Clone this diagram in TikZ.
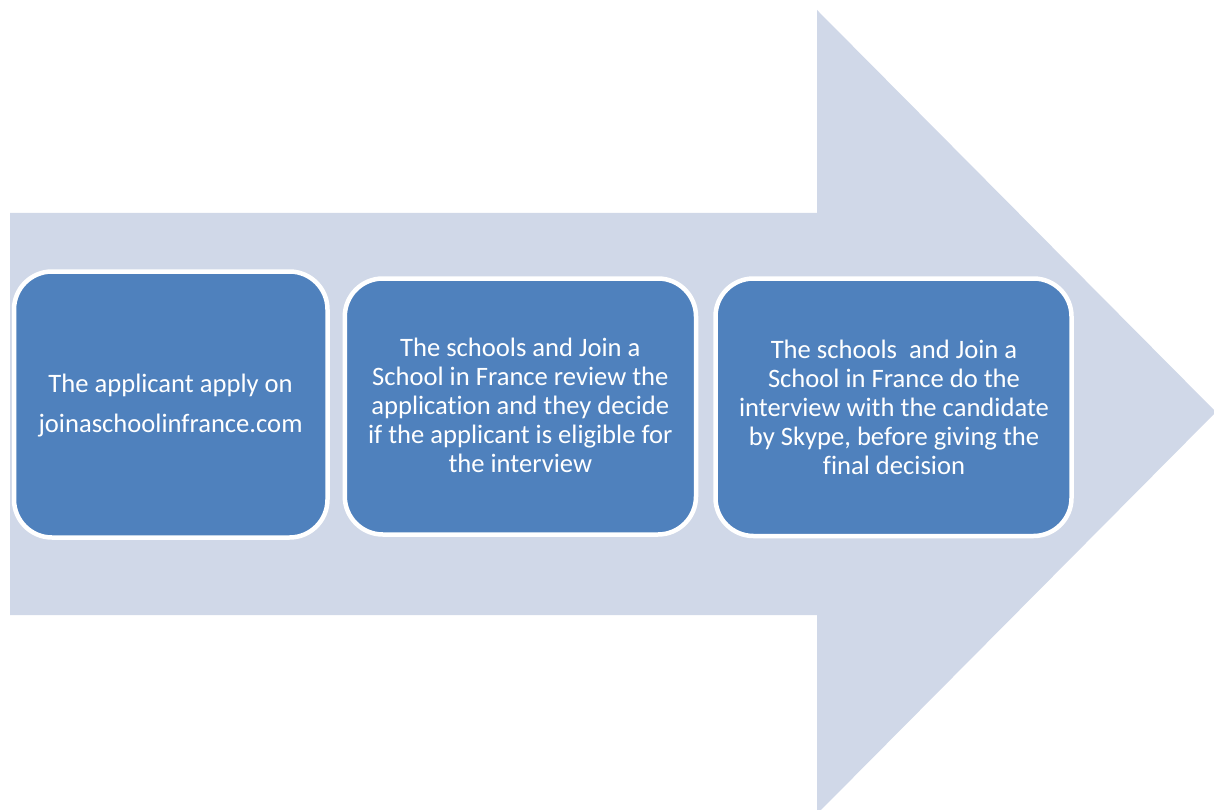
\documentclass[tikz,border=0pt]{standalone}
\usepackage{fontspec}
\setmainfont{Carlito}[Ligatures={NoCommon}]
\definecolor{arrowfill}{HTML}{D0D8E8}
\definecolor{stepfill}{HTML}{4F81BD}
\newcommand{\topstrut}{\rule{0pt}{19pt}}
\newcommand{\botstrut}{\rule[-6pt]{0pt}{6pt}}
\begin{document}
\begin{tikzpicture}[x=1pt,y=-1pt,
  stepbox/.style={draw=white, line width=4.5pt, fill=stepfill,
    rounded corners=38pt, inner sep=0pt, outer sep=0pt},
  steptext/.style={text=white, align=center, inner sep=0pt, outer sep=0pt,
    font=\fontsize{26.6}{29}\selectfont}]
  \useasboundingbox (0,0) rectangle (1214,810);
  \clip (0,0) rectangle (1214,810);
  % large block arrow in the background
  \fill[arrowfill] (10,213) -- (817,213) -- (817,10) -- (1216,412)
    -- (817,814) -- (817,615) -- (10,615) -- cycle;
  % the three steps
  \node[stepbox, minimum width=313.5pt, minimum height=266pt] (b1) at (170.75,404.5) {};
  \node[stepbox, minimum width=351.2pt, minimum height=256pt] (b2) at (520.4,406.5) {};
  \node[stepbox, minimum width=356pt, minimum height=257.5pt] (b3) at (893.5,407.25) {};
  \node[steptext, font=\fontsize{26.6}{40}\selectfont] (t1) at (170.6,406.2)
    {\topstrut The applicant apply on\\joinaschoolinfrance.com\botstrut};
  \node[steptext] (t2) at (520.3,407.5)
    {\topstrut The schools and Join a\\School in France review the\\application and they decide\\if the applicant is eligible for\\the interview\botstrut};
  \node[steptext] (t3) at (894,409.8)
    {\topstrut The schools\ \ and Join a\\School in France do the\\interview with the candidate\\by Skype, before giving the\\final decision\botstrut};
\end{tikzpicture}
\end{document}
